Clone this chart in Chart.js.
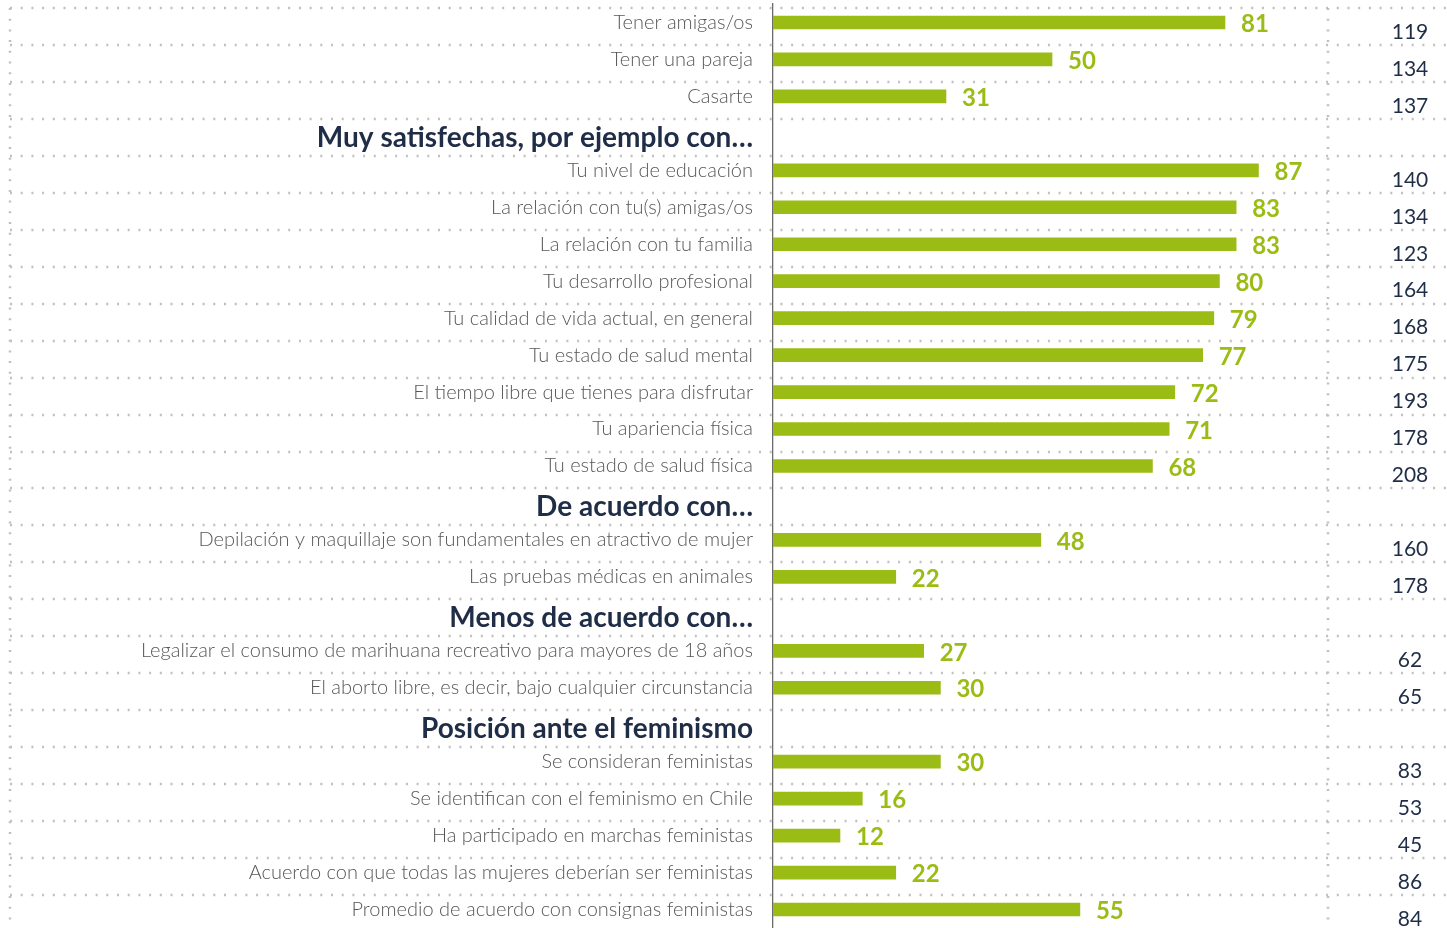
<!DOCTYPE html>
<html>
<head>
<meta charset="utf-8">
<script src="https://cdn.jsdelivr.net/npm/chart.js@4.4.1/dist/chart.umd.min.js"></script>
<style>
  html, body { margin: 0; padding: 0; background: #ffffff; overflow: hidden; }
  canvas { display: block; }
</style>
</head>
<body>
<canvas id="chart" width="1447" height="928"></canvas>
<script>
// rows of the chart, headers are the rows with no value
const categories = [
    'Tener amigas/os',
    'Tener una pareja',
    'Casarte',
    'Muy satisfechas, por ejemplo con…',
    'Tu nivel de educación',
    'La relación con tu(s) amigas/os',
    'La relación con tu familia',
    'Tu desarrollo profesional',
    'Tu calidad de vida actual, en general',
    'Tu estado de salud mental',
    'El tiempo libre que tienes para disfrutar',
    'Tu apariencia física',
    'Tu estado de salud física',
    'De acuerdo con…',
    'Depilación y maquillaje son fundamentales en atractivo de mujer',
    'Las pruebas médicas en animales',
    'Menos de acuerdo con…',
    'Legalizar el consumo de marihuana recreativo para mayores de 18 años',
    'El aborto libre, es decir, bajo cualquier circunstancia',
    'Posición ante el feminismo',
    'Se consideran feministas',
    'Se identifican con el feminismo en Chile',
    'Ha participado en marchas feministas',
    'Acuerdo con que todas las mujeres deberían ser feministas',
    'Promedio de acuerdo con consignas feministas'
];

const percentages = [81, 50, 31, null, 87, 83, 83, 80, 79, 77, 72, 71, 68, null, 48, 22, null, 27, 30, null, 30, 16, 12, 22, 55];

const sampleSizes = [119, 134, 137, null, 140, 134, 123, 164, 168, 175, 193, 178, 208, null, 160, 178, null, 62, 65, null, 83, 53, 45, 86, 84];

const headerRows = [3, 13, 16, 19];

const GREEN = '#9bbc15';
const NAVY = '#1f2d47';
const GREY_TEXT = '#575757';
const DOTS = '#c0c0c0';

const isHeader = (i) => headerRows.includes(i);

// dotted row separators, side rules and the number labels
const decorations = {
    id: 'decorations',
    beforeDatasetsDraw(chart) {
        const ctx = chart.ctx;
        const y = chart.scales.y;
        const area = chart.chartArea;
        const rowH = (area.bottom - area.top) / categories.length;

        ctx.save();
        ctx.strokeStyle = DOTS;
        ctx.lineWidth = 2.5;
        ctx.setLineDash([2, 8.7]);
        for (let i = 0; i < categories.length; i++) {
            const yy = Math.round(y.getPixelForValue(i) - rowH / 2 + 4);
            ctx.beginPath();
            ctx.moveTo(10, yy);
            ctx.lineTo(chart.width, yy);
            ctx.stroke();
        }
        [10, 1328].forEach(xx => {
            ctx.beginPath();
            ctx.moveTo(xx, 8);
            ctx.lineTo(xx, chart.height);
            ctx.stroke();
        });
        ctx.restore();
    },
    afterDatasetsDraw(chart) {
        const ctx = chart.ctx;
        const meta = chart.getDatasetMeta(0);
        const y = chart.scales.y;
        ctx.save();
        ctx.textBaseline = 'middle';
        meta.data.forEach((bar, i) => {
            if (percentages[i] == null) return;
            const cy = y.getPixelForValue(i);
            ctx.fillStyle = GREEN;
            ctx.font = 'bold 24px Lato';
            ctx.textAlign = 'left';
            ctx.fillText(String(percentages[i]), bar.x + 16, cy + 2);

            ctx.fillStyle = NAVY;
            ctx.font = '21px Lato';
            ctx.textAlign = 'center';
            ctx.fillText(String(sampleSizes[i]), 1410, cy + 9.5);
        });
        ctx.restore();
    }
};

new Chart(document.getElementById('chart'), {
    type: 'bar',
    data: {
        labels: categories.map((c, i) => isHeader(i) ? ['', c] : c),
        datasets: [{
            data: percentages,
            backgroundColor: GREEN,
            borderWidth: 0,
            barThickness: 13
        }]
    },
    options: {
        indexAxis: 'y',
        responsive: false,
        animation: false,
        layout: {
            padding: { top: 4, right: 116, bottom: 0, left: 0 }
        },
        scales: {
            x: {
                min: 0,
                max: 100,
                display: false
            },
            y: {
                grid: { display: false },
                border: { display: true, color: '#6b6b6b', width: 1.3 },
                afterFit(scale) {
                    scale.width = 773;
                    scale.paddingTop = 0;
                    scale.paddingBottom = 0;
                },
                ticks: {
                    padding: 12,
                    autoSkip: false,
                    color: (ctx) => isHeader(ctx.index) ? NAVY : GREY_TEXT,
                    font: (ctx) => isHeader(ctx.index)
                        ? { family: 'Lato', size: 28, weight: 'bold', lineHeight: '9px' }
                        : { family: 'Lato', size: 20, weight: 300 }
                }
            }
        },
        plugins: {
            legend: { display: false },
            tooltip: { enabled: false }
        }
    },
    plugins: [decorations]
});
</script>
</body>
</html>
